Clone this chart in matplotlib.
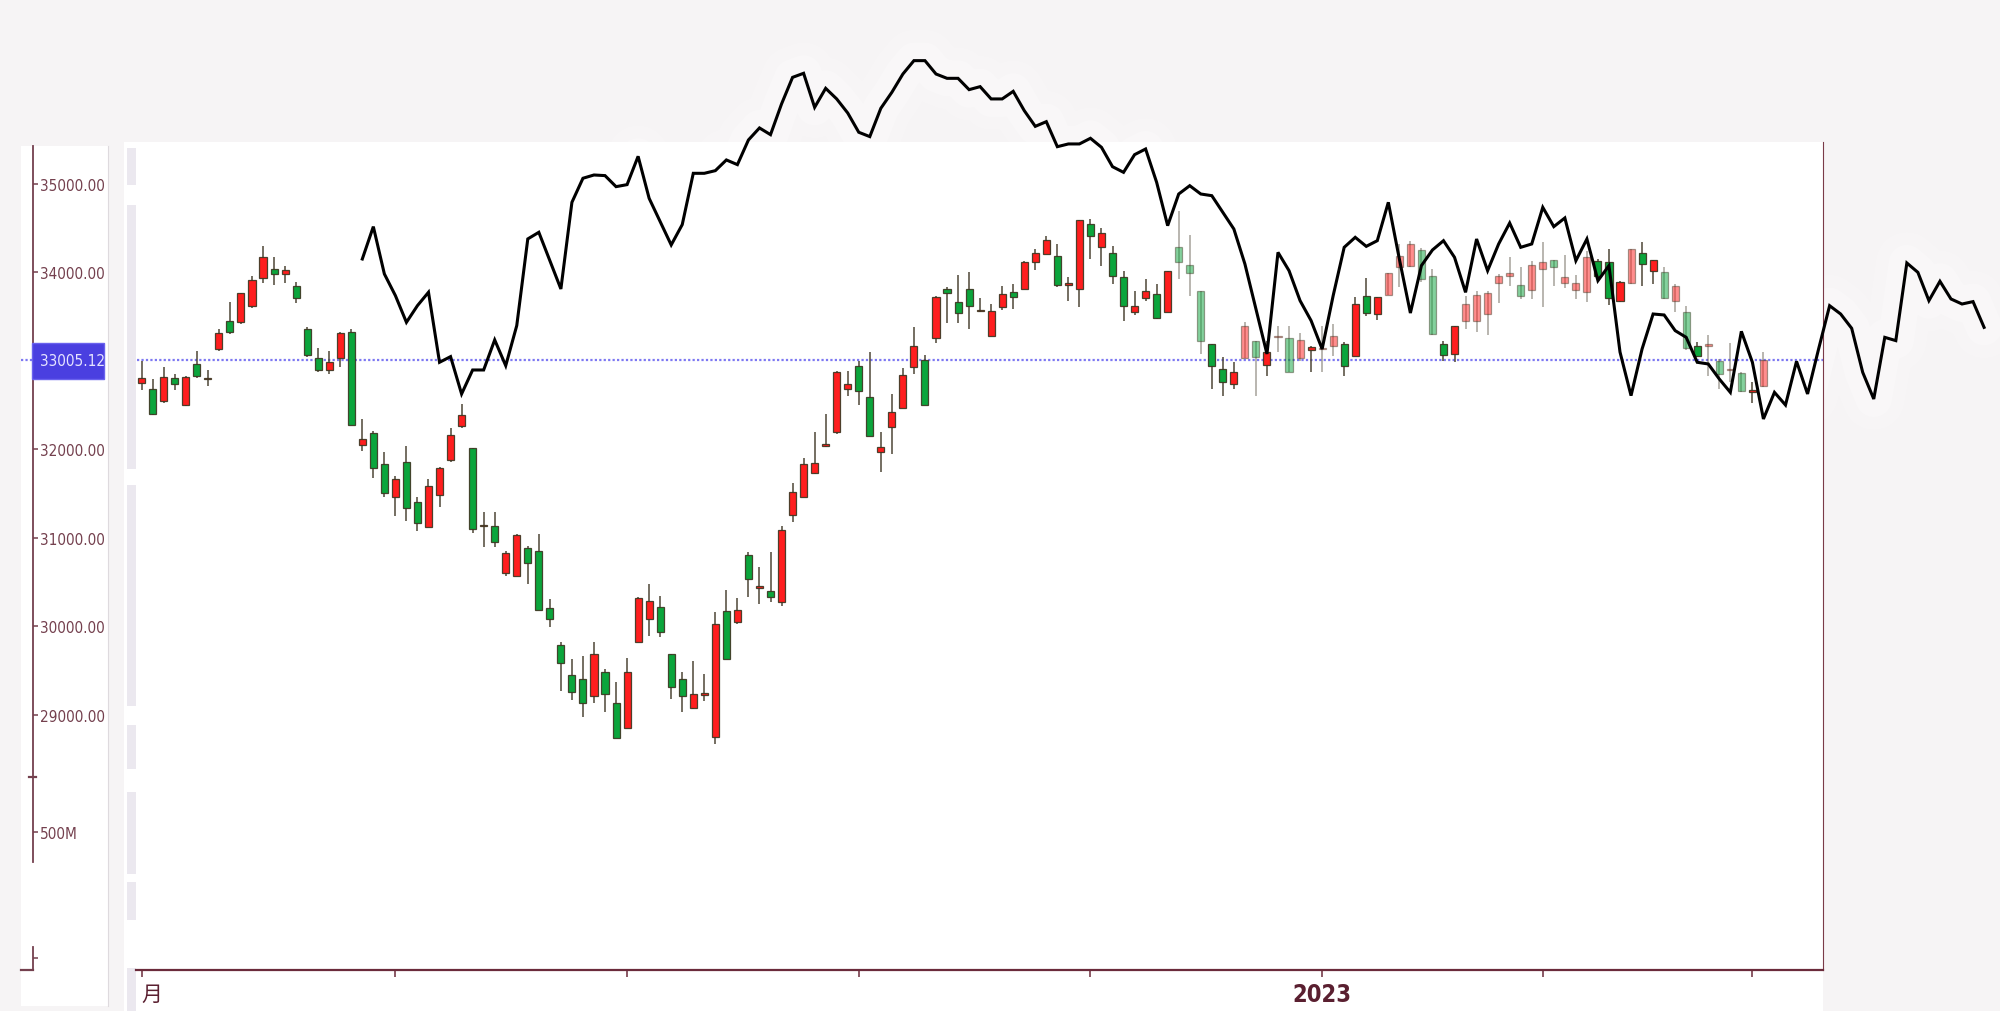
import numpy as np
import matplotlib
matplotlib.use("Agg")
import matplotlib.pyplot as plt
import matplotlib.transforms as mtransforms
from matplotlib import font_manager as fm
from matplotlib.patches import Rectangle
from matplotlib.lines import Line2D

# ---- data -------------------------------------------------------------
opens = [32750, 32682, 32550, 32806, 32501, 32965, 32790, 33134, 33455, 33436,
         33624, 33933, 34039, 33982, 33843, 33360, 33029, 32901, 33029, 33323,
         32049, 32185, 31834, 31457, 31860, 31408, 31125, 31483, 31883, 32260,
         32011, 31130, 31137, 30601, 30571, 30880, 30854, 30202, 29787, 29448,
         29403, 29207, 29486, 29132, 28845, 29825, 30081, 30213, 29686, 29403,
         29071, 29225, 28743, 30175, 30051, 30805, 30432, 30402, 30270, 31257,
         31457, 31732, 32040, 32200, 32682, 32938, 32588, 31966, 32249, 32464,
         32927, 33014, 33255, 33813, 33662, 33813, 33560, 33285, 33605, 33775,
         33813, 34114, 34209, 34190, 33862, 33813, 34548, 34284, 34216, 33945,
         33556, 33707, 33756, 33556, 34284, 34084, 33794, 33191, 32908, 32739,
         33029, 33229, 32954, 33267, 33255, 33029, 33127, 33130, 33165, 33191,
         33059, 33737, 33530, 33745, 34058, 34077, 34257, 33964, 33191, 33078,
         33455, 33455, 33530, 33881, 33956, 33862, 33805, 34039, 34141, 33881,
         33805, 33783, 34133, 34122, 33681, 33881, 34220, 34020, 34009, 33681,
         33556, 33172, 33170, 33003, 32895, 32863, 32652, 32720]
highs = [33002, 32795, 32927, 32852, 32833, 33115, 32897, 33360, 33670, 33767,
         33964, 34303, 34171, 34069, 33896, 33379, 33142, 33115, 33323, 33360,
         32343, 32211, 31966, 31702, 32041, 31457, 31664, 31796, 32237, 32512,
         32011, 31287, 31295, 30854, 31042, 30903, 31042, 30307, 29818, 29629,
         29667, 29817, 29516, 29365, 29636, 30326, 30477, 30345, 29686, 29486,
         29610, 29459, 30157, 30413, 30315, 30835, 30666, 30835, 31137, 31619,
         31898, 32200, 32399, 32889, 32889, 33003, 33097, 32200, 32626, 32915,
         33380, 33067, 33730, 33832, 33971, 34001, 33707, 33643, 33850, 33869,
         34133, 34265, 34408, 34322, 33945, 34597, 34604, 34499, 34303, 34020,
         33794, 33926, 33869, 34020, 34699, 34423, 33794, 33191, 33040, 32991,
         33443, 33229, 33229, 33398, 33398, 33315, 33172, 33391, 33417, 33210,
         33718, 33933, 33718, 33990, 34322, 34359, 34273, 34039, 33229, 33398,
         33737, 33794, 33794, 33982, 34171, 34058, 34133, 34348, 34141, 34197,
         33971, 34246, 34152, 34265, 33907, 34265, 34348, 34141, 34058, 33869,
         33617, 33210, 33297, 33022, 33202, 32878, 32765, 33097]
lows = [32675, 32388, 32524, 32675, 32494, 32806, 32720, 33115, 33304, 33417,
        33594, 33880, 33858, 33880, 33654, 33040, 32870, 32852, 32927, 32279,
        31985, 31672, 31457, 31250, 31193, 31080, 31125, 31344, 31860, 32237,
        31054, 30892, 30892, 30571, 30571, 30477, 30187, 29987, 29271, 29169,
        28970, 29132, 29026, 28732, 28845, 29825, 29893, 29874, 29177, 29026,
        29064, 29158, 28668, 29629, 30025, 30326, 30251, 30270, 30225, 31174,
        31457, 31721, 32022, 32173, 32599, 32501, 32154, 31747, 31947, 32464,
        32852, 32501, 33202, 33428, 33428, 33360, 33549, 33285, 33579, 33587,
        33813, 34031, 34209, 33832, 33681, 33605, 34152, 34077, 33869, 33455,
        33519, 33681, 33474, 33556, 33926, 33737, 33078, 32682, 32599, 32682,
        33029, 32599, 32833, 33097, 32878, 33003, 32878, 32878, 33059, 32825,
        33059, 33511, 33466, 33745, 33832, 34058, 33888, 33293, 33003, 32984,
        33360, 33323, 33293, 33655, 33850, 33700, 33700, 33606, 33850, 33820,
        33700, 33662, 33926, 33632, 33662, 33869, 33850, 33869, 33700, 33556,
        33127, 33040, 32833, 32682, 32757, 32652, 32524, 32701]
closes = [32806, 32399, 32814, 32738, 32814, 32833, 32806, 33315, 33330, 33767,
          33918, 34171, 33982, 34028, 33707, 33067, 32901, 32991, 33315, 32279,
          32117, 31785, 31506, 31664, 31333, 31163, 31589, 31785, 32162, 32388,
          31099, 31137, 30948, 30828, 31031, 30714, 30187, 30081, 29584, 29252,
          29132, 29686, 29233, 28732, 29486, 30315, 30289, 29930, 29309, 29207,
          29233, 29233, 30025, 29629, 30187, 30533, 30440, 30326, 31092, 31514,
          31834, 31845, 32049, 32870, 32739, 32663, 32154, 32022, 32418, 32840,
          33172, 32501, 33718, 33768, 33541, 33617, 33568, 33568, 33756, 33718,
          34114, 34216, 34367, 33858, 33869, 34597, 34416, 34446, 33963, 33617,
          33617, 33794, 33481, 34020, 34122, 33994, 33229, 32946, 32765, 32871,
          33391, 33040, 33097, 33285, 32878, 33236, 33153, 33140, 33285, 32938,
          33643, 33541, 33718, 33990, 34190, 34322, 33926, 33304, 33067, 33398,
          33643, 33745, 33767, 33964, 33994, 33737, 34084, 34122, 34065, 33945,
          33881, 34171, 33956, 33707, 33888, 34265, 34095, 34141, 33707, 33843,
          33142, 33059, 33176, 32852, 32900, 32663, 32663, 33014]

# comparison line, starts 20 bars after the first candle
line_start = 20
ref_line = [34152, 34518, 33983, 33738, 33436, 33625, 33776, 32984, 33048, 32626,
            32897, 32897, 33237, 32946, 33399, 34379, 34454, 34134, 33813, 34793,
            35065, 35102, 35095, 34970, 34993, 35313, 34838, 34575, 34311, 34541,
            35121, 35121, 35151, 35272, 35219, 35498, 35634, 35558, 35905, 36206,
            36252, 35867, 36082, 35962, 35803, 35585, 35536, 35856, 36037, 36244,
            36395, 36395, 36244, 36195, 36195, 36067, 36101, 35962, 35962, 36048,
            35830, 35652, 35705, 35422, 35453, 35453, 35517, 35415, 35196, 35132,
            35332, 35396,
            35019, 34529, 34887, 34981, 34887, 34868, 34680, 34491, 34096, 33587,
            33078, 34227, 34020, 33681, 33455, 33134, 33737, 34284, 34397, 34295,
            34359, 34793, 34152, 33541, 34077, 34254, 34359, 34171, 33775, 34378,
            34020, 34322, 34559, 34284, 34322, 34736, 34518, 34616, 34133, 34378,
            33907, 34077, 33100, 32607, 33134, 33530, 33519, 33342, 33266, 32984,
            32965, 32795, 32644, 33334, 32984, 32343, 32644, 32501, 32995, 32626,
            33134, 33624, 33530, 33368, 32870, 32569, 33266, 33229, 34107, 34001,
            33681, 33900, 33700, 33643, 33670, 33379]

last_price = 33005.12
price_ticks = [29000, 30000, 31000, 32000, 34000, 35000]
month_ticks = [0, 23, 44, 65, 86, 107, 127, 146]
month_labels = ["月", "", "", "", "", "2023", "", ""]

# candles drawn washed out (style only)
faded = set(range(94, 148)) - {97, 98, 99, 102, 106, 109, 110, 111, 112, 118,
                               119, 132, 133, 134, 136, 137, 141, 146}

# ---- fonts ------------------------------------------------------------
names = {f.name for f in fm.fontManager.ttflist}
has_cond = any(f.name == "DejaVu Sans" and "condensed" in str(f.stretch) for f in fm.fontManager.ttflist)
if "Liberation Sans Narrow" in names:
    scale_font, scale_stretch, scale_size = "Liberation Sans Narrow", "normal", 12.5
elif has_cond:
    scale_font, scale_stretch, scale_size = "DejaVu Sans", "condensed", 11
else:
    scale_font, scale_stretch, scale_size = "Liberation Sans", "normal", 10.6
plt.rcParams["font.family"] = [scale_font, "DejaVu Sans"]
plt.rcParams["font.stretch"] = scale_stretch

W, H = 2000, 1012
BG = "#f6f4f5"
AXC = "#74404e"


def fx(px):
    return px / W


def fy(py):
    return 1 - py / H


fig = plt.figure(figsize=(20, 10.12), dpi=100, facecolor=BG)


def px_rect(x0, y0, x1, y1, **kw):
    r = Rectangle((fx(x0), fy(y1)), fx(x1) - fx(x0), fy(y0) - fy(y1),
                  transform=fig.transFigure, **kw)
    fig.patches.append(r)


px_rect(124, 143, 1823, 1012, facecolor="white", edgecolor="none", zorder=-2)
px_rect(21, 147, 108, 1007, facecolor="white", edgecolor="none", zorder=-2)
fig.add_artist(Line2D([fx(108), fx(108)], [fy(147), fy(1007)], transform=fig.transFigure,
                      color="#dedade", lw=0.8, zorder=-1))
for y0, y1 in [(149, 186), (206, 470), (486, 707), (726, 770), (793, 875), (883, 921), (969, 1012)]:
    px_rect(127, y0, 136, y1, facecolor="#ebe8ef", edgecolor="none", zorder=-1)

ymin, ymax = 26112, 35475
ax = fig.add_axes([fx(124), fy(971), fx(1823) - fx(124), (971 - 143) / H])
ax.set_facecolor("none")
ax.set_xlim(-1.6, 152.4)
ax.set_ylim(ymin, ymax)

# ---- candles ----------------------------------------------------------
o = np.array(opens, float)
h = np.array(highs, float)
l = np.array(lows, float)
c = np.array(closes, float)
x = np.arange(len(o))
up = c >= o
alpha = np.array([0.5 if i in faded else 1.0 for i in x])

fill = np.array([matplotlib.colors.to_rgba("#ff1e1e" if u else "#0ba53c", a) for u, a in zip(up, alpha)])
edge = np.array([matplotlib.colors.to_rgba("#3b3520", a * 0.9) for a in alpha])
wick = np.array([matplotlib.colors.to_rgba("#4a4232", a * 0.9) for a in alpha])

ax.vlines(x, l, h, colors=wick, lw=1.2, zorder=2)
bottom = np.minimum(o, c)
height = np.maximum(np.abs(c - o), 18)
ax.bar(x, height, bottom=bottom, width=0.64, color=fill, edgecolor=edge, linewidth=0.9, zorder=3)

# ---- last price dotted line ------------------------------------------
ax.axhline(last_price, xmin=(137 - 124) / 1699, xmax=1, color="#7d78f2",
           lw=1.6, ls=(0, (1, 1)), zorder=1)

# ---- comparison line with its soft halo ------------------------------
lx = np.arange(line_start, line_start + len(ref_line))
for lw_halo, a_halo in [(44, 0.18), (26, 0.25)]:
    ax.plot(lx, ref_line, color="white", lw=lw_halo, alpha=a_halo, clip_on=False,
            solid_joinstyle="round", solid_capstyle="round", zorder=0.5)
ax.plot(lx, ref_line, color="black", lw=2.2, clip_on=False,
        solid_joinstyle="miter", zorder=4)

# ---- main axis styling -----------------------------------------------
for s in ["top", "left"]:
    ax.spines[s].set_visible(False)
ax.spines["bottom"].set_color("#6b2b3b")
ax.spines["bottom"].set_linewidth(1.6)
ax.spines["bottom"].set_bounds(-0.5, 152.4)
ax.spines["right"].set_color("#7a3a48")
ax.spines["right"].set_linewidth(0.8)
ax.set_yticks([])
ax.set_xticks(month_ticks)
ax.set_xticklabels(month_labels)
ax.tick_params(axis="x", direction="out", length=5, width=1.1, color="#6b2b3b",
               pad=4, labelcolor="#5a1f30")
for t in ax.get_xticklabels():
    if t.get_text() == "2023":
        t.set_fontsize(17)
        t.set_fontweight("bold")
    else:
        t.set_fontsize(15)
        t.set_family(["Noto Sans CJK SC", "DejaVu Sans"])
        t.set_horizontalalignment("left")

# ---- left price scale -------------------------------------------------
lax = fig.add_axes([fx(32.5), fy(971), fx(108) - fx(32.5), (971 - 143) / H])
lax.set_facecolor("none")
lax.set_xlim(0, 1)
lax.set_ylim(ymin, ymax)
for s in ["top", "right", "bottom"]:
    lax.spines[s].set_visible(False)
lax.spines["left"].set_color(AXC)
lax.spines["left"].set_linewidth(1.3)
lax.spines["left"].set_bounds(27333, 35430)
lax.set_xticks([])
lax.set_yticks(price_ticks)
lax.set_yticklabels([f"{v:.2f}" for v in price_ticks])
lax.tick_params(axis="y", direction="in", length=3.4, width=1.1, color=AXC,
                pad=-5.6, labelsize=scale_size, labelcolor=AXC)
for t in lax.get_yticklabels():
    t.set_horizontalalignment("left")

blend = mtransforms.blended_transform_factory(lax.transAxes, lax.transData)
lax.add_patch(Rectangle((-0.013, 32795), 0.96, 407, transform=blend,
                        facecolor="#4a3fe0", edgecolor="#6a62ee", lw=1, clip_on=False, zorder=3))
lax.text(0.099, last_price, f"{last_price:.2f}", transform=blend, ha="left", va="center",
         fontsize=scale_size, color="#e6e4ff", zorder=4)
lax.add_line(Line2D([-0.152, -0.013], [last_price, last_price], transform=blend,
                    color="#7d78f2", lw=1.6, ls=(0, (1, 1)), clip_on=False))
lax.add_line(Line2D([-0.046, 0.046], [28294, 28294], transform=blend,
                    color=AXC, lw=1.6, clip_on=False))

# ---- volume scale stub ------------------------------------------------
vax = fig.add_axes([fx(32.5), fy(971), fx(108) - fx(32.5), (971 - 778) / H])
vax.set_facecolor("none")
vax.set_xlim(0, 1)
vax.set_ylim(0, 699e6)
for s in ["top", "right", "bottom"]:
    vax.spines[s].set_visible(False)
vax.spines["left"].set_color(AXC)
vax.spines["left"].set_linewidth(1.3)
vax.spines["left"].set_bounds(0, 83e6)
vax.set_xticks([])
vax.set_yticks([500e6, 43e6])
vax.set_yticklabels(["500M", ""])
vax.tick_params(axis="y", direction="in", length=3.4, width=1.1, color=AXC,
                pad=-5.6, labelsize=scale_size, labelcolor=AXC)
for t in vax.get_yticklabels():
    t.set_horizontalalignment("left")
fig.add_artist(Line2D([fx(21), fx(33)], [fy(971), fy(971)], transform=fig.transFigure,
                      color=AXC, lw=1.6))

fig.savefig("out.png", dpi=100, facecolor=BG)
